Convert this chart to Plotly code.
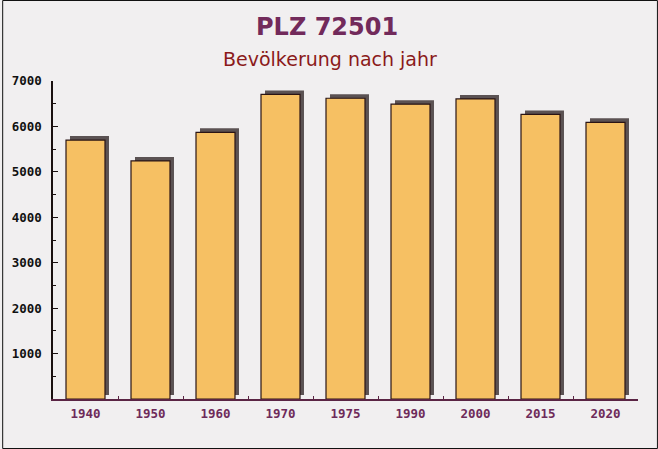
import plotly.graph_objects as go

years = ["1940", "1950", "1960", "1970", "1975", "1990", "2000", "2015", "2020"]
population = [5700, 5240, 5870, 6705, 6620, 6490, 6605, 6265, 6090]

W, H = 658, 449
L, R, T, B = 51, 20, 81, 50
pw, ph = W - L - R, H - T - B

bar_color = "#f6c063"
shadow_color = "#5b5253"
bg = "#f1eff0"

fig = go.Figure()
# shadow (3D effect), offset up-right by a few pixels
shadow_dx = 4 / (pw / len(years))
shadow_dy = 4 * 7000 / ph
fig.add_trace(go.Bar(
    x=years, y=population, base=shadow_dy, width=0.6, offset=-0.3 + shadow_dx,
    marker=dict(color=shadow_color, line=dict(width=0)), hoverinfo="skip", showlegend=False,
))
fig.add_trace(go.Bar(
    x=years, y=population, width=0.6, offset=-0.3,
    marker=dict(color=bar_color, line=dict(color="#2a1414", width=1.2)), showlegend=False,
))

cx = (W / 2 - L) / pw

fig.update_layout(
    width=W, height=H,
    margin=dict(l=L, r=R, t=T, b=B, pad=0),
    paper_bgcolor=bg, plot_bgcolor=bg,
    barmode="overlay",
    showlegend=False,
    xaxis=dict(
        type="category", range=[-0.5, len(years) - 0.5],
        showgrid=False, zeroline=False,
        showline=True, linecolor="#5a2444", linewidth=1.5,
        ticks="inside", tickson="boundaries", ticklen=3, tickcolor="#5a2444",
        tickfont=dict(family="DejaVu Sans Mono", size=12.5, color="#6e2a5a", weight="bold"),
        ticklabelstandoff=2,
    ),
    yaxis=dict(
        range=[0, 7000], tickvals=[1000, 2000, 3000, 4000, 5000, 6000, 7000],
        showgrid=False, zeroline=False,
        showline=True, linecolor="#1a1010", linewidth=1.5,
        ticks="inside", ticklen=5, tickcolor="#1a1010",
        minor=dict(dtick=500, ticks="inside", ticklen=3, tickcolor="#1a1010", showgrid=False),
        tickfont=dict(family="DejaVu Sans Mono", size=12.5, color="#111111", weight="bold"),
        ticklabelstandoff=7,
    ),
    annotations=[
        dict(text="PLZ 72501", x=cx - 0.006, xref="paper", xanchor="center",
             y=(H - B - 27) / ph, yref="paper", yanchor="middle", showarrow=False,
             font=dict(family="DejaVu Sans", size=24, color="#722a5b", weight="bold")),
        dict(text="Bevölkerung nach jahr", x=cx, xref="paper", xanchor="center",
             y=(H - B - 59) / ph, yref="paper", yanchor="middle", showarrow=False,
             font=dict(family="DejaVu Sans", size=19, color="#8b1a1a")),
    ],
    shapes=[dict(type="rect", xref="paper", yref="paper",
                 x0=-(L - 0.5) / pw, x1=1 + (R - 0.5) / pw,
                 y0=-(B - 0.5) / ph, y1=1 + (T - 0.5) / ph,
                 line=dict(color="#111111", width=1), layer="above")],
)

fig.write_html("out.html")
